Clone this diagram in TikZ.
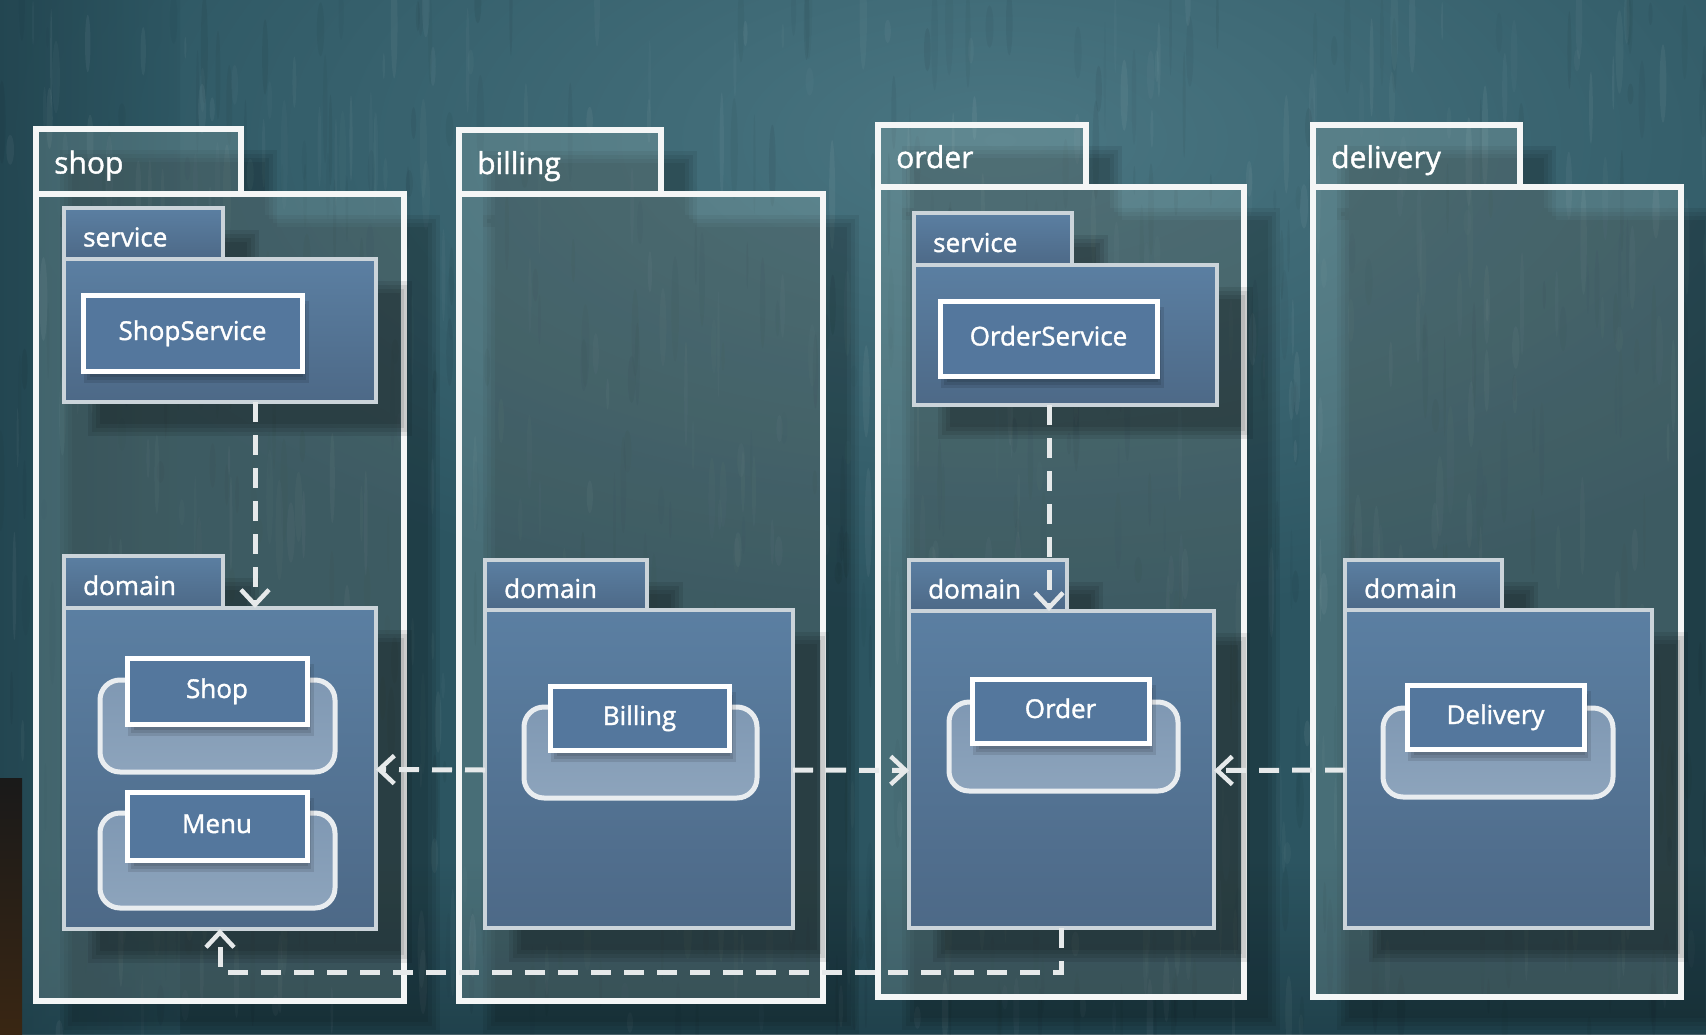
\documentclass[tikz,border=0pt]{standalone}
\usepackage{fontspec}
\setmainfont{Open Sans}[BoldFont=Open Sans, BoldFeatures={FakeBold=1.4}]
\usetikzlibrary{arrows.meta,fit,calc}

\definecolor{bgbase}{HTML}{2C5561}
\definecolor{bglight}{HTML}{4A7682}
\definecolor{bgdark}{HTML}{1E3D47}
\definecolor{pkgline}{HTML}{F4F6F6}
\definecolor{pkgfill}{HTML}{B9D3D0}
\definecolor{subtop}{HTML}{5B7FA2}
\definecolor{subbot}{HTML}{4D6987}
\definecolor{subline}{HTML}{CBD4DA}
\definecolor{clsfill}{HTML}{54779D}
\definecolor{enttop}{HTML}{7F98B3}
\definecolor{entbot}{HTML}{8DA4BC}
\definecolor{entline}{HTML}{E9EDF0}
\definecolor{depline}{HTML}{E6E9EA}

\pgfdeclarelayer{bgl}
\pgfdeclarelayer{oshad}
\pgfdeclarelayer{opkg}
\pgfdeclarelayer{ishad}
\pgfdeclarelayer{ipkg}
\pgfsetlayers{bgl,oshad,opkg,ishad,ipkg,main}

\tikzset{
  box/.style={inner sep=0pt, outer sep=0pt},
  outerpkg/.style={box, draw=pkgline, line width=6pt, fill=pkgfill, fill opacity=0.2},
  subpkg/.style={box, draw=subline, line width=4.5pt, top color=subtop, bottom color=subbot},
  clsbox/.style={box, draw=white, line width=5pt, fill=clsfill, text=white,
    font=\fontsize{26pt}{31pt}\selectfont\bfseries, text height=20pt, text depth=6pt},
  entback/.style={box, draw=entline, line width=5pt, rounded corners=20pt,
    top color=enttop, bottom color=entbot},
  outerlabel/.style={anchor=base west, inner sep=0pt, text=white,
    font=\fontsize{30pt}{36pt}\selectfont\bfseries},
  sublabel/.style={anchor=base west, inner sep=0pt, text=white,
    font=\fontsize{26pt}{31pt}\selectfont\bfseries},
  dep/.style={draw=depline, line width=5pt, dash pattern=on 20pt off 13pt,
    -{Straight Barb[length=15pt, width=28pt, line width=4.5pt]}},
}

% soft drop shadow under a named node: node, dx, dy, strength
\newcommand\dropshade[4]{%
  \foreach \g in {0,4,8,12}{%
    \fill[black, opacity=#4]
      ([shift={(#2-\g+6,#3-\g+6)}]#1.north west) rectangle
      ([shift={(#2+\g-6,#3+\g-6)}]#1.south east);
  }}

% box spanning two corners
\newcommand\boxat[4]{\node[#1, fit={#3}] (#2) {#4};}
% class box: name, x1, y1, x2, y2, text
\newcommand\clsat[6]{%
  \node[clsbox, minimum width={#4-#2}, minimum height={#5-#3}] (#1)
    at ({(#2+#4)/2},{(#3+#5)/2}) {#6};}

\begin{document}
\begin{tikzpicture}[x=1pt, y=-1pt]
\useasboundingbox (0,0) rectangle (1706,1034);

% ---------- textured backdrop ----------
\begin{pgfonlayer}{bgl}
  \begin{scope}
    \clip (0,0) rectangle (1706,1034);
    \fill[bgbase] (0,0) rectangle (1706,1034);
    \shade[inner color=bglight, outer color=bgbase] (1000,140) ellipse [x radius=1000, y radius=480];
    \shade[top color=bgbase, bottom color=bgdark, opacity=0.8] (0,860) rectangle (1706,1034);
    \shade[left color=bgdark, right color=bgbase, opacity=0.6] (0,0) rectangle (180,1034);
    \pgfmathsetseed{17}
    \foreach \i in {1,...,900}{%
      \pgfmathsetmacro\px{rnd*1706}%
      \pgfmathsetmacro\py{rnd*1034}%
      \pgfmathsetmacro\pw{1+rnd*3}%
      \pgfmathsetmacro\ph{10+rnd*45}%
      \pgfmathsetmacro\po{0.02+rnd*0.035}%
      \pgfmathtruncatemacro\pk{rnd>0.5}%
      \ifnum\pk=1 \def\pc{white}\else\def\pc{black}\fi
      \fill[\pc, opacity=\po] (\px,\py) ellipse [x radius=\pw, y radius=\ph];
    }
    \shade[top color=black!90, bottom color=black!70!brown] (0,778) rectangle (22,1034);
  \end{scope}
\end{pgfonlayer}

% ---------- outer packages ----------
\begin{pgfonlayer}{opkg}
  \boxat{outerpkg}{shoptab}{(36,129)(241,194)}{}
  \boxat{outerpkg}{shopbody}{(36,194)(404,1001)}{}
  \boxat{outerpkg}{billtab}{(459,130)(661,194)}{}
  \boxat{outerpkg}{billbody}{(459,194)(823,1001)}{}
  \boxat{outerpkg}{ordtab}{(878,125)(1086,187)}{}
  \boxat{outerpkg}{ordbody}{(878,187)(1244,997)}{}
  \boxat{outerpkg}{deltab}{(1313,125)(1520,187)}{}
  \boxat{outerpkg}{delbody}{(1313,187)(1681,997)}{}
  \node[outerlabel] (shoplbl) at ([xshift=18pt, yshift=-12pt]shoptab.west) {shop};
  \node[outerlabel] (billlbl) at ([xshift=18pt, yshift=-12pt]billtab.west) {billing};
  \node[outerlabel] (ordlbl)  at ([xshift=18pt, yshift=-12pt]ordtab.west) {order};
  \node[outerlabel] (dellbl)  at ([xshift=18pt, yshift=-12pt]deltab.west) {delivery};
\end{pgfonlayer}
\begin{pgfonlayer}{oshad}
  \foreach \n in {shoptab,shopbody,billtab,billbody,ordtab,ordbody,deltab,delbody}{
    \dropshade{\n}{30}{27}{0.07}
  }
\end{pgfonlayer}

% ---------- inner packages ----------
\begin{pgfonlayer}{ipkg}
  \boxat{subpkg}{shopsvctab}{(64,208)(223,259)}{}
  \boxat{subpkg}{shopsvc}{(64,259)(376,402)}{}
  \boxat{subpkg}{shopdomtab}{(64,556)(223,608)}{}
  \boxat{subpkg}{shopdom}{(64,608)(376,929)}{}
  \boxat{subpkg}{billdomtab}{(485,560)(647,610)}{}
  \boxat{subpkg}{billdom}{(485,610)(793,928)}{}
  \boxat{subpkg}{ordsvctab}{(914,213)(1072,265)}{}
  \boxat{subpkg}{ordsvc}{(914,265)(1217,405)}{}
  \boxat{subpkg}{orddomtab}{(909,560)(1067,611)}{}
  \boxat{subpkg}{orddom}{(909,611)(1214,928)}{}
  \boxat{subpkg}{deldomtab}{(1345,560)(1502,610)}{}
  \boxat{subpkg}{deldom}{(1345,610)(1652,928)}{}
  \node[sublabel] (shopsvclbl) at ([xshift=19pt, yshift=-13pt]shopsvctab.west) {service};
  \node[sublabel] (shopdomlbl) at ([xshift=19pt, yshift=-13pt]shopdomtab.west) {domain};
  \node[sublabel] (billdomlbl) at ([xshift=19pt, yshift=-13pt]billdomtab.west) {domain};
  \node[sublabel] (ordsvclbl)  at ([xshift=19pt, yshift=-13pt]ordsvctab.west) {service};
  \node[sublabel] (orddomlbl)  at ([xshift=19pt, yshift=-13pt]orddomtab.west) {domain};
  \node[sublabel] (deldomlbl)  at ([xshift=19pt, yshift=-13pt]deldomtab.west) {domain};
\end{pgfonlayer}
\begin{pgfonlayer}{ishad}
  \foreach \n in {shopsvctab,shopsvc,shopdomtab,shopdom,billdomtab,billdom,
                  ordsvctab,ordsvc,orddomtab,orddom,deldomtab,deldom}{
    \dropshade{\n}{30}{28}{0.085}
  }
\end{pgfonlayer}

% ---------- classes and entities ----------
\boxat{entback}{shopentbg}{(100,680)(335,772)}{}
\boxat{entback}{menuentbg}{(100,813)(335,908)}{}
\boxat{entback}{billentbg}{(524,707)(757,798)}{}
\boxat{entback}{ordentbg}{(949,702)(1178,791)}{}
\boxat{entback}{delentbg}{(1383,708)(1613,797)}{}

% small soft shadows under the class boxes
\foreach \ax/\ay/\bx/\by in {83/295/302/371, 127/658/307/724, 127/792/307/860,
                             550/686/729/750, 940/301/1157/376, 972/679/1149/743,
                             1407/685/1584/749}{
  \foreach \g in {0,3,6}{
    \fill[black, opacity=0.1] (\ax+4-\g+3,\ay+9-\g+3) rectangle (\bx+4+\g-3,\by+9+\g-3);
  }
}

\clsat{shopsvccls}{83}{295}{302}{371}{ShopService}
\clsat{shopent}{127}{658}{307}{724}{Shop}
\clsat{menuent}{127}{792}{307}{860}{Menu}
\clsat{billent}{550}{686}{729}{750}{Billing}
\clsat{ordsvccls}{940}{301}{1157}{376}{OrderService}
\clsat{ordent}{972}{679}{1149}{743}{Order}
\clsat{delent}{1407}{685}{1584}{749}{Delivery}

% ---------- dependencies ----------
\coordinate (shopx) at (255,0);
\coordinate (ordx) at (1049,0);
\draw[dep] (shopsvc.south -| shopx) -- (shopdom.north -| shopx);
\draw[dep] (ordsvc.south -| ordx) -- (orddom.north -| ordx);
\draw[dep] ([yshift=-1pt]billdom.west) -- ([yshift=-1pt]shopdom.east);
\draw[dep] ([yshift=-1pt]billdom.east) -- ([yshift=-1pt]orddom.west);
\draw[dep] ([yshift=-1pt]deldom.west) -- ([yshift=-1pt]orddom.east);
\draw[dep] (orddom.south) -- ++(0,44) -| (shopdom.south);
\end{tikzpicture}
\end{document}
